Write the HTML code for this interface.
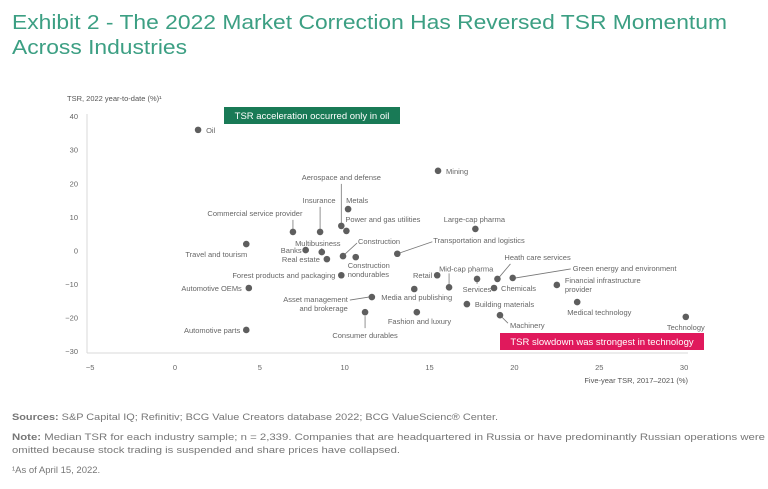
<!DOCTYPE html>
<html><head><meta charset="utf-8"><style>
html,body{margin:0;padding:0;background:#fff;}
svg{display:block;font-family:"Liberation Sans",sans-serif;}
</style></head><body>
<svg id="chart" width="768" height="489" viewBox="0 0 768 489">
<g fill="#3c9f83" font-size="20">
<text x="12" y="29" textLength="715" lengthAdjust="spacingAndGlyphs">Exhibit 2 - The 2022 Market Correction Has Reversed TSR Momentum</text>
<text x="12" y="54" textLength="175" lengthAdjust="spacingAndGlyphs">Across Industries</text>
</g>
<text x="67" y="101" font-size="7.5" fill="#555">TSR, 2022 year-to-date (%)¹</text>
<text x="688" y="383" font-size="7.5" fill="#555" text-anchor="end">Five-year TSR, 2017–2021 (%)</text>
<line x1="87" y1="114" x2="87" y2="353" stroke="#d8d8d8" stroke-width="1"/>
<line x1="87" y1="353" x2="688" y2="353" stroke="#d8d8d8" stroke-width="1"/>
<g id="yticks"></g><g id="xticks"></g>
<g id="leaders"></g><g id="points"></g><g id="labels"></g>
<g>
<rect x="224" y="107" width="176" height="17" fill="#197a56"/>
<text x="312" y="119" font-size="9.5" fill="#fff" text-anchor="middle">TSR acceleration occurred only in oil</text>
</g>
<g>
<rect x="500" y="333" width="204" height="17" fill="#e0195c"/>
<text x="602" y="345" font-size="9.5" fill="#fff" text-anchor="middle">TSR slowdown was strongest in technology</text>
</g>
<g font-size="9.5" fill="#777">
<text x="12" y="420" textLength="486" lengthAdjust="spacingAndGlyphs"><tspan font-weight="bold">Sources:</tspan> S&amp;P Capital IQ; Refinitiv; BCG Value Creators database 2022; BCG ValueScienc® Center.</text>
<text x="12" y="440" textLength="753" lengthAdjust="spacingAndGlyphs"><tspan font-weight="bold">Note:</tspan> Median TSR for each industry sample; n = 2,339. Companies that are headquartered in Russia or have predominantly Russian operations were</text>
<text x="12" y="453" textLength="388" lengthAdjust="spacingAndGlyphs">omitted because stock trading is suspended and share prices have collapsed.</text>
<text x="12" y="473">¹As of April 15, 2022.</text>
</g>
</svg>
<script>
const industries=["Oil","Mining","Aerospace and defense","Metals","Power and gas utilities","Insurance","Commercial service provider","Travel and tourism","Banks","Multibusiness","Real estate","Construction","Construction nondurables","Transportation and logistics","Forest products and packaging","Retail","Large-cap pharma","Mid-cap pharma","Services","Heath care services","Chemicals","Green energy and environment","Financial infrastructure provider","Medical technology","Technology","Building materials","Machinery","Automotive OEMs","Asset management and brokerage","Media and publishing","Consumer durables","Fashion and luxury","Automotive parts"];
const fiveYearTSR=[1.36,15.5,9.8,10.2,10.1,8.55,6.95,4.2,7.7,8.65,8.95,9.9,10.65,13.1,9.8,15.45,17.7,16.15,17.8,19.0,18.8,19.9,22.5,23.7,30.1,17.2,19.15,4.35,11.6,14.1,11.2,14.25,4.2];
const ytdTSR=[35.9,23.7,7.3,12.3,5.8,5.5,5.5,1.9,0.1,-0.5,-2.6,-1.7,-2.0,-1.0,-7.4,-7.4,6.4,-11.0,-8.5,-8.5,-11.2,-8.2,-10.3,-15.4,-19.8,-16.0,-19.3,-11.2,-13.9,-11.5,-18.4,-18.4,-23.7];
const xTickValues=[-5,0,5,10,15,20,25,30];
const yTickValues=[40,30,20,10,0,-10,-20,-30];
const xTickLabels=["−5","0","5","10","15","20","25","30"];
const yTickLabels=["40","30","20","10","0","−10","−20","−30"];

const NS="http://www.w3.org/2000/svg";
function xs(v){return 175+v*16.97;}
function ys(v){return 250.4-v*3.357;}
function mk(tag,attrs,parent){const e=document.createElementNS(NS,tag);for(const k in attrs)e.setAttribute(k,attrs[k]);parent.appendChild(e);return e;}

const yt=document.getElementById('yticks');
yTickValues.forEach((v,i)=>{const t=mk('text',{x:78,y:ys(v)+3,'font-size':7.5,fill:'#666','text-anchor':'end'},yt);t.textContent=yTickLabels[i];

});
const xt=document.getElementById('xticks');
xTickValues.forEach((v,i)=>{const t=mk('text',{x:xs(v),y:370,'font-size':7.5,fill:'#666','text-anchor':'middle'},xt);t.textContent=xTickLabels[i];

});

// label layout: [dx,dy,anchor,lines,leader(dx1,dy1,dx2,dy2) or null] relative to point
const labelLayout=[
[8,3,'start',["Oil"],null],
[8,3,'start',["Mining"],null],
[0,-46,'middle',["Aerospace and defense"],[0,-42,0,-3]],
[-2,-6,'start',["Metals"],null],
[-1,-9,'start',["Power and gas utilities"],null],
[-1,-29,'middle',["Insurance"],[0,-25,0,-3]],
[-38,-16,'middle',["Commercial service provider"],[0,-12,0,-3]],
[-30,13,'middle',["Travel and tourism"],null],
[-4,3,'end',["Banks"],null],
[-4,-6,'middle',["Multibusiness"],[0,-4,0,-2]],
[-7,3,'end',["Real estate"],null],
[15,-12,'start',["Construction"],[2,-2,14,-13]],
[-8,11,'start',["Construction","nondurables"],null],
[36,-11,'start',["Transportation and logistics"],[3,-1,35,-12]],
[-6,3,'end',["Forest products and packaging"],null],
[-5,3,'end',["Retail"],null],
[-1,-7,'middle',["Large-cap pharma"],null],
[-10,-16,'start',["Mid-cap pharma"],[0,-14,0,-3]],
[0,13,'middle',["Services"],[0,3,0,5]],
[7,-19,'start',["Heath care services"],[2,-2,13,-15]],
[7,3,'start',["Chemicals"],null],
[60,-7,'start',["Green energy and environment"],[3,0,58,-9]],
[8,-2,'start',["Financial infrastructure","provider"],null],
[-10,13,'start',["Medical technology"],null],
[0,13,'middle',["Technology"],null],
[8,3,'start',["Building materials"],null],
[10,13,'start',["Machinery"],[2,2,8,8]],
[-7,3,'end',["Automotive OEMs"],null],
[-24,5,'end',["Asset management","and brokerage"],[-3,0,-22,3]],
[-33,11,'start',["Media and publishing"],null],
[0,26,'middle',["Consumer durables"],[0,4,0,16]],
[-29,12,'start',["Fashion and luxury"],null],
[-6,3,'end',["Automotive parts"],null]
];
const pg=document.getElementById('points'),lg=document.getElementById('labels'),ld=document.getElementById('leaders');
industries.forEach((name,i)=>{
const px=xs(fiveYearTSR[i]),py=ys(ytdTSR[i]);
const c=mk('circle',{cx:px,cy:py,r:3.3,fill:'#5e5e5e'},pg);


const L=labelLayout[i];
if(L[4]){const l=mk('line',{x1:px+L[4][0],y1:py+L[4][1],x2:px+L[4][2],y2:py+L[4][3],stroke:'#777','stroke-width':0.8},ld);

}
const t=mk('text',{x:px+L[0],y:py+L[1],'font-size':7.5,fill:'#666','text-anchor':L[2]},lg);


L[3].forEach((s,j)=>{const ts=mk('tspan',{x:px+L[0],dy:j?9:0},t);ts.textContent=s;});
});
</script>
</body></html>
